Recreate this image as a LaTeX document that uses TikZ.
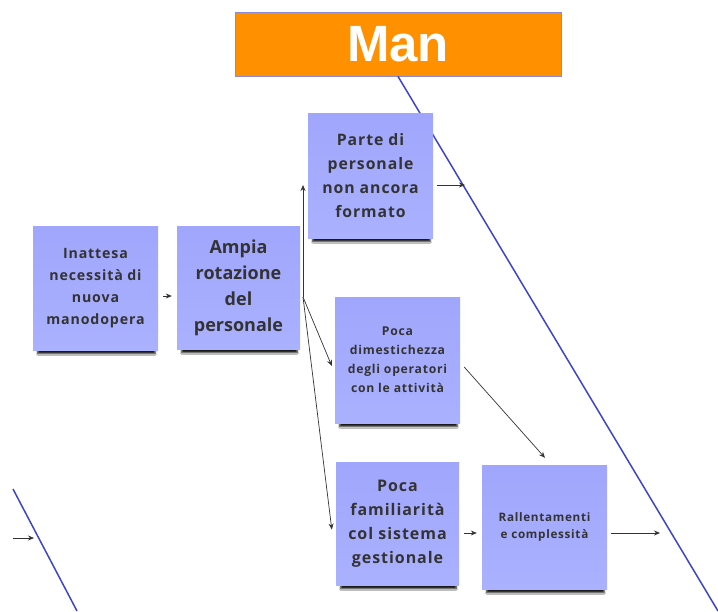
\documentclass[tikz,border=0pt]{standalone}
\usepackage{fontspec}
\usetikzlibrary{arrows.meta,shadows.blur,calc}
\newfontfamily\notefont[LetterSpace=6]{Open Sans}
\newfontfamily\notefontw{Open Sans}
\newfontfamily\manfont{Liberation Sans}
\definecolor{notetop}{HTML}{A0A6FC}
\definecolor{notebot}{HTML}{AAB1FE}
\definecolor{notetext}{HTML}{333333}
\definecolor{manorange}{HTML}{FF9100}
\definecolor{manborder}{HTML}{8A8AD6}
\definecolor{fish}{HTML}{3F45C8}
\definecolor{arrcol}{HTML}{333333}
\tikzset{
  note/.style={rectangle, top color=notetop, bottom color=notebot, draw=none,
    align=center, text=notetext, inner sep=2pt,
    blur shadow={shadow xshift=1pt, shadow yshift=-8pt, shadow scale=0.94,
      shadow blur steps=6, shadow opacity=90}},
  arr/.style={draw=arrcol, line width=0.7pt, -{Stealth[length=6pt,width=5pt]}},
  fishline/.style={draw=fish, line width=1.5pt},
}
\begin{document}
\begin{tikzpicture}[x=1pt,y=-1pt]
\useasboundingbox (0,0) rectangle (718,611);
\fill[white] (0,0) rectangle (718,611);

% fish bones
\node[rectangle, fill=manorange, draw=manborder, line width=0.8pt,
      minimum width=326pt, minimum height=64pt, inner sep=0pt,
      text=white, font=\manfont\bfseries\fontsize{51}{51}\selectfont] (man) at (398,44) {Man};
\coordinate (bone1end) at (718,611);
\draw[fishline] (man.south) -- (bone1end);
\coordinate (bone2a) at (13,489);
\coordinate (bone2b) at (77,611);
\draw[fishline] (bone2a) -- (bone2b);

% notes
\node[note, minimum width=125pt, minimum height=124pt,
      font=\notefont\bfseries\fontsize{14.2}{22}\selectfont] (n1) at (95.5,288)
      {Inattesa\\necessità di\\nuova\\manodopera};
\node[note, minimum width=123pt, minimum height=123pt,
      font=\notefontw\bfseries\fontsize{18}{26}\selectfont] (n2) at (238.5,287.5)
      {Ampia\\rotazione\\del\\personale};
\node[note, minimum width=125pt, minimum height=125pt,
      font=\notefont\bfseries\fontsize{15.8}{24}\selectfont] (n3) at (370.5,175.5)
      {Parte di\\personale\\non ancora\\formato};
\node[note, minimum width=125pt, minimum height=126pt,
      font=\notefont\bfseries\fontsize{12.2}{19}\selectfont] (n4) at (397.5,360)
      {Poca\\dimestichezza\\degli operatori\\con le attività};
\node[note, minimum width=123pt, minimum height=123pt,
      font=\notefont\bfseries\fontsize{16}{24}\selectfont] (n5) at (397.5,523.5)
      {Poca\\familiarità\\col sistema\\gestionale};
\node[note, minimum width=125pt, minimum height=124pt,
      font=\notefont\bfseries\fontsize{11.7}{17}\selectfont] (n6) at (544.5,527)
      {Rallentamenti\\e complessità};

% connectors
\coordinate (hub) at (303,297);
\draw[arr] ($(n1.east |- hub)+(5,-1)$) -- ($(n2.west |- hub)+(-5,-1)$);
\draw[arr] (hub) -- ($(hub |- n3.center)+(0,9.5)$);
\draw[arr] (hub) -- ($(n4.west)+(-3,6)$);
\draw[arr] (hub) -- ($(n5.west)+(-4,6)$);
\coordinate (e1) at (465,185);
\draw[arr] ($(n3.east)+(4,9.5)$) -- (e1);
\draw[arr] ($(n4.east)+(4,7)$) -- ($(n6.north)+(0.5,-7)$);
\draw[arr] ($(n5.east)+(5,9.5)$) -- ($(n6.west)+(-5,6)$);
\coordinate (e2) at (660,533);
\draw[arr] ($(n6.east)+(4,6)$) -- (e2);
\coordinate (s3) at (13,538);
\coordinate (e3) at (34,538);
\draw[arr] (s3) -- (e3);
\end{tikzpicture}
\end{document}
